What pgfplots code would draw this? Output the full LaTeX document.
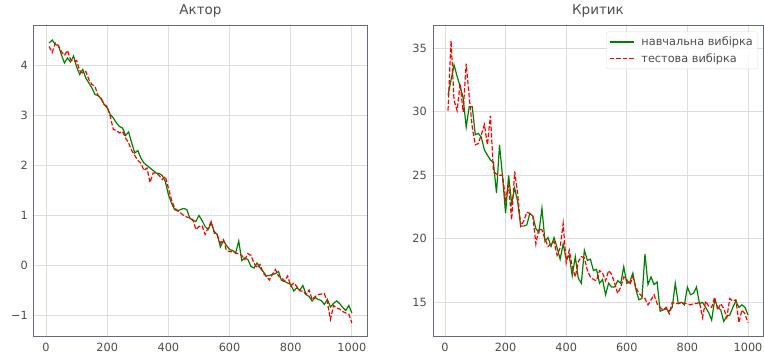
\documentclass[border=0pt]{standalone}
\usepackage{pgfplots}
\pgfplotsset{compat=1.18}
\usepackage{pgfplotstable}
\usepackage{fontspec}
\setmainfont{DejaVu Sans}
\definecolor{framec}{RGB}{98,108,122}
\definecolor{gridc}{RGB}{221,221,221}
\definecolor{textc}{RGB}{77,77,77}
\definecolor{mgreen}{RGB}{0,128,0}
\definecolor{mred}{RGB}{255,0,0}

% x, actor train, actor test
\pgfplotstableread{
x tr te
10 4.45 4.38
20 4.51 4.26
30 4.42 4.45
40 4.40 4.40
50 4.22 4.28
60 4.05 4.20
70 4.15 4.30
80 4.07 4.12
90 4.19 4.08
100 3.97 4.10
110 3.82 3.90
120 3.92 3.85
130 3.75 3.88
140 3.65 3.72
150 3.55 3.62
160 3.42 3.58
170 3.40 3.40
180 3.33 3.35
190 3.22 3.22
200 3.15 3.18
210 3.02 2.98
220 2.95 2.72
230 2.85 2.70
240 2.78 2.65
250 2.75 2.68
260 2.60 2.55
270 2.67 2.45
280 2.45 2.30
290 2.25 2.20
300 2.30 2.10
310 2.15 2.05
320 2.05 1.90
330 2.00 1.95
340 1.95 1.66
350 1.90 1.85
360 1.85 1.85
370 1.84 1.80
380 1.80 1.72
390 1.68 1.78
400 1.42 1.55
410 1.25 1.32
420 1.12 1.15
430 1.09 1.10
440 1.12 1.05
450 1.14 1.00
460 1.12 0.97
470 0.95 0.95
480 0.90 0.92
490 0.88 0.72
500 1.00 0.78
510 0.90 0.80
520 0.78 0.62
530 0.72 0.75
540 0.85 0.88
550 0.68 0.65
560 0.62 0.60
570 0.37 0.45
580 0.50 0.52
590 0.40 0.30
600 0.32 0.28
610 0.30 0.27
620 0.25 0.25
630 0.49 0.23
640 0.10 0.20
650 0.15 0.12
660 0.12 0.24
670 -0.02 0.20
680 -0.05 0.05
690 0.05 -0.05
700 -0.05 0.02
710 -0.12 -0.15
720 -0.21 -0.22
730 -0.20 -0.29
740 -0.18 -0.18
750 -0.16 -0.08
760 -0.12 -0.21
770 -0.30 -0.25
780 -0.32 -0.31
790 -0.35 -0.21
800 -0.38 -0.41
810 -0.51 -0.35
820 -0.45 -0.42
830 -0.49 -0.51
840 -0.40 -0.51
850 -0.58 -0.58
860 -0.62 -0.49
870 -0.71 -0.68
880 -0.64 -0.62
890 -0.68 -0.58
900 -0.70 -0.57
910 -0.78 -0.56
920 -0.68 -0.74
930 -0.83 -1.08
940 -0.76 -0.80
950 -0.71 -0.85
960 -0.76 -0.87
970 -0.84 -0.92
980 -0.90 -0.95
990 -0.80 -0.97
1000 -0.95 -1.15
}\actor

% x, critic train, critic test
\pgfplotstableread{
x tr te
10 31.3 30.1
20 32.5 35.6
30 33.7 30.9
40 32.8 30.1
50 32.0 32.2
60 31.1 30.0
70 28.8 33.8
80 30.4 31.2
90 30.4 28.8
100 28.2 27.4
110 28.3 27.5
120 28.0 28.2
130 27.0 29.0
140 26.6 27.4
150 26.2 29.7
160 26.0 25.3
170 23.6 25.1
180 27.4 25.0
190 24.9 25.0
200 22.0 23.1
210 25.0 24.2
220 22.8 21.5
230 24.0 25.3
240 22.9 23.5
250 21.0 21.0
260 21.0 21.4
270 21.1 22.1
280 22.0 22.0
290 21.8 21.8
300 20.8 19.6
310 20.5 20.8
320 22.4 20.7
330 19.8 20.0
340 20.1 19.4
350 19.4 19.6
360 20.1 19.8
370 19.3 18.7
380 18.4 19.3
390 19.6 21.2
400 18.4 18.1
410 18.7 19.1
420 17.1 17.8
430 18.6 17.0
440 16.9 18.2
450 16.5 18.6
460 19.1 18.5
470 18.3 17.5
480 18.4 17.0
490 17.5 16.8
500 17.6 16.7
510 16.5 17.5
520 16.8 17.3
530 15.6 16.7
540 16.5 17.5
550 16.2 17.2
560 16.2 16.5
570 16.7 15.7
580 16.5 16.2
590 17.8 17.0
600 16.5 16.8
610 16.6 16.4
620 17.3 17.0
630 16.0 16.2
640 15.2 15.7
650 15.3 15.5
660 18.8 15.3
670 16.4 14.8
680 17.0 15.2
690 16.4 15.6
700 16.6 14.9
710 14.3 14.6
720 14.4 14.4
730 14.5 14.6
740 14.3 14.1
750 14.6 15.0
760 16.5 14.9
770 14.9 14.9
780 15.0 15.0
790 14.8 14.9
800 16.2 14.9
810 15.6 14.8
820 15.7 14.9
830 16.2 14.9
840 14.9 15.0
850 15.0 13.8
860 14.6 15.1
870 14.2 14.7
880 13.6 14.6
890 15.2 15.4
900 14.6 14.4
910 14.4 14.9
920 13.5 14.5
930 13.9 13.8
940 14.0 15.3
950 14.6 15.1
960 15.1 15.2
970 14.6 13.4
980 14.8 14.4
990 14.6 14.1
1000 14.0 13.4
}\critic

\pgfplotsset{
  mystyle/.style={
    scale only axis,
    height=311pt,
    xmin=-39.5, xmax=1049.5,
    axis line style={framec, line width=1pt},
    grid=major,
    major grid style={gridc, line width=0.9pt},
    tick style={draw=none},
    xtick={0,200,400,600,800,1000},
    xticklabels={0,200,400,600,800,1000},
    ticklabel style={font=\fontsize{11.3}{13}\selectfont, text=textc, inner sep=0pt},
    xticklabel style={yshift=-6pt},
    yticklabel style={xshift=-6pt},
    title style={font=\fontsize{13.5}{16}\selectfont, text=textc, at={(0.5,1)}, anchor=base, yshift=5pt},
  }
}

\begin{document}
\begin{tikzpicture}
\path[use as bounding box] (0pt,0pt) rectangle (764pt,355pt);
\begin{axis}[mystyle, at={(34pt,18pt)}, anchor=south west, width=333pt,
  ymin=-1.43, ymax=4.79,
  ytick={-1,0,1,2,3,4}, yticklabels={−1,0,1,2,3,4},
  title={Актор}]
\addplot[mgreen, line width=1.2pt] table[x=x, y=tr] {\actor};
\addplot[mred, line width=1.2pt, dash pattern=on 4.5pt off 2pt] table[x=x, y=te] {\actor};
\end{axis}
\begin{axis}[mystyle, at={(433pt,18pt)}, anchor=south west, width=330pt,
  ymin=12.27, ymax=36.76,
  ytick={15,20,25,30,35}, yticklabels={15,20,25,30,35},
  title={Критик},
  legend style={at={(0.985,0.982)}, anchor=north east, draw=gridc, rounded corners=2pt,
    fill=white, fill opacity=0.8, text opacity=1, font=\fontsize{11.3}{13}\selectfont,
    text=textc, inner xsep=3pt, inner ysep=3pt, row sep=2.5pt, cells={anchor=west}},
  legend image code/.code={\draw[#1] (0pt,0pt) -- (24pt,0pt);}]
\addplot[mgreen, line width=1.2pt] table[x=x, y=tr] {\critic};
\addlegendentry{\hspace{5pt}навчальна вибірка}
\addplot[mred, line width=1.2pt, dash pattern=on 4.5pt off 2pt] table[x=x, y=te] {\critic};
\addlegendentry{\hspace{5pt}тестова вибірка}
\end{axis}
\end{tikzpicture}
\end{document}
